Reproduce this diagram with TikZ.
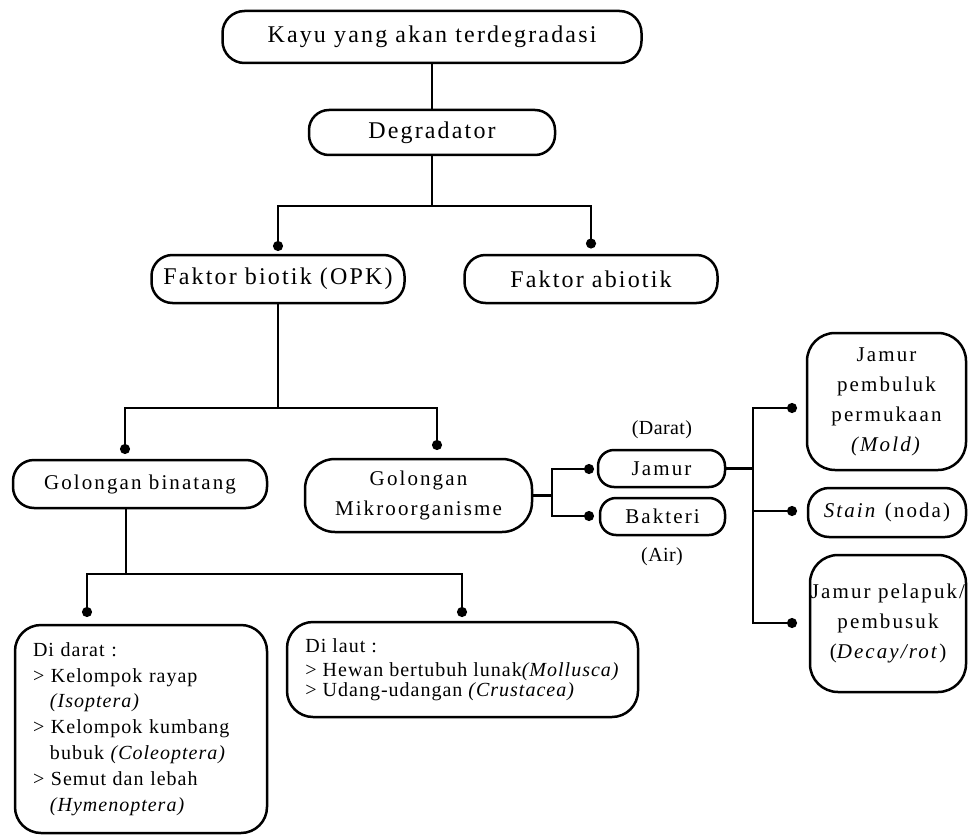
\documentclass[tikz,border=0pt]{standalone}
\usepackage{fontspec}
\setmainfont{Liberation Serif}
\newfontfamily\tracktop[LetterSpace=9]{Liberation Serif}
\newfontfamily\trackmid[LetterSpace=10]{Liberation Serif}
\newfontfamily\tracklist[LetterSpace=5]{Liberation Serif}
\newfontfamily\tracklabel[LetterSpace=2]{Liberation Serif}
\usetikzlibrary{arrows.meta}

\tikzset{
	box/.style = {draw, line width = 2.5pt, inner sep = 0pt, align = center},
	link/.style = {line width = 2.3pt},
	dotlink/.style = {link, -{Circle[length = 10pt]}},
	upper/.style = {font = \tracktop\fontsize{24}{28}\selectfont},
	lower/.style = {font = \trackmid\fontsize{21}{30}\selectfont},
	listing/.style = {font = \tracklist\fontsize{20}{25.8}\selectfont},
}

\begin{document}
\begin{tikzpicture}[x = 1pt, y = -1pt]
			\useasboundingbox (0,0) rectangle (968,837);
			
			\node [box, upper, rounded corners = 22pt, minimum width = 419pt, minimum height = 52pt] (kayu) at (432,37) {Kayu yang akan terdegradasi};
			\node [box, upper, rounded corners = 20pt, minimum width = 246pt, minimum height = 45pt] (degr) at (432,132.5) {Degradator};
			\node [box, upper, rounded corners = 21pt, minimum width = 253pt, minimum height = 48pt] (biotik) at (278,279) {Faktor biotik (OPK)};
			\node [box, upper, rounded corners = 21pt, minimum width = 253pt, minimum height = 48pt] (abiotik) at (591,279) {Faktor abiotik};
			
			\node [box, lower, rounded corners = 21pt, minimum width = 254pt, minimum height = 48pt] (binatang) at (140,484) {Golongan binatang};
			\node [box, lower, rounded corners = 30pt, minimum width = 227pt, minimum height = 73pt] (mikro) at (418.5,495.5) {Golongan\\Mikroorganisme};
			
			\node [box, listing, rounded corners = 26pt, minimum width = 252pt, minimum height = 208pt, text width = 216pt, align = left] (darat) at (141,729) {Di darat :\\
				> Kelompok rayap\\
				\hspace*{17pt}\textit{(Isoptera)}\\
				> Kelompok kumbang\\
				\hspace*{17pt}bubuk \textit{(Coleoptera)}\\
				> Semut dan lebah\\
				\hspace*{17pt}\textit{(Hymenoptera)}};
			\node [box, font = \tracklist\fontsize{20}{20}\selectfont, rounded corners = 26pt, minimum width = 351pt, minimum height = 95pt, align = left] (laut) at (462.5,669.5) {Di laut :\\[4pt]
				> Hewan bertubuh lunak\textit{(Mollusca)}\\
				> Udang-udangan \textit{(Crustacea)}};
			
			\node [box, lower, rounded corners = 16pt, minimum width = 127pt, minimum height = 37pt] (jamur) at (661.5,468.5) {Jamur};
			\node [box, lower, rounded corners = 16pt, minimum width = 125pt, minimum height = 37pt] (bakteri) at (662.5,516.5) {Bakteri};
			\node [font = \tracklabel\fontsize{20}{24}\selectfont] (lblDarat) at (662,430) {(Darat)};
			\node [font = \tracklabel\fontsize{20}{24}\selectfont] (lblAir) at (662,557) {(Air)};
			
			\node [box, lower, rounded corners = 28pt, minimum width = 159pt, minimum height = 137pt] (mold) at (886.5,401.5) {Jamur\\pembuluk\\permukaan\\\textit{(Mold)}};
			\node [box, lower, rounded corners = 21pt, minimum width = 158pt, minimum height = 49pt] (stain) at (887,512.5) {\textit{Stain} (noda)};
			\node [box, lower, rounded corners = 28pt, minimum width = 156pt, minimum height = 137pt] (decay) at (888,623.5) {Jamur pelapuk/\\pembusuk\\(\textit{Decay/rot})};
			
			\coordinate (fork1) at (432,206);
			\coordinate (biotikIn) at (278,251);
			\coordinate (abiotikIn) at (591,248.5);
			\coordinate (fork2) at (278,408);
			\coordinate (binatangIn) at (125,454);
			\coordinate (mikroIn) at (437,450);
			\coordinate (fork3) at (126,574);
			\coordinate (daratIn) at (87,617);
			\coordinate (lautIn) at (462,617);
			\coordinate (fork4) at (552,495.5);
			\coordinate (jamurIn) at (594,469);
			\coordinate (bakteriIn) at (594,516);
			\coordinate (fork5) at (753,468.5);
			\coordinate (moldIn) at (797,408);
			\coordinate (stainIn) at (797,511);
			\coordinate (decayIn) at (797,623);
			
			\draw [link] (kayu.south) -- (kayu.south |- degr.north);
			\draw [link] (degr.south) -- (fork1);
			\draw [dotlink] (fork1) -| (biotikIn);
			\draw [dotlink] (fork1) -| (abiotikIn);
			
			\draw [link] (biotik.south) -- (fork2);
			\draw [dotlink] (fork2) -| (binatangIn);
			\draw [dotlink] (fork2) -| (mikroIn);
			
			\draw [link] (binatang.south -| fork3) -- (fork3);
			\draw [dotlink] (fork3) -| (daratIn);
			\draw [dotlink] (fork3) -| (lautIn);
			
			\draw [link] (mikro.east) -- (fork4);
			\draw [dotlink] (fork4) |- (jamurIn);
			\draw [dotlink] (fork4) |- (bakteriIn);
			
			\draw [link] (jamur.east) -- (fork5);
			\draw [dotlink] (fork5) |- (moldIn);
			\draw [dotlink] (fork5) |- (stainIn);
			\draw [dotlink] (fork5) |- (decayIn);
		\end{tikzpicture}
\end{document}
